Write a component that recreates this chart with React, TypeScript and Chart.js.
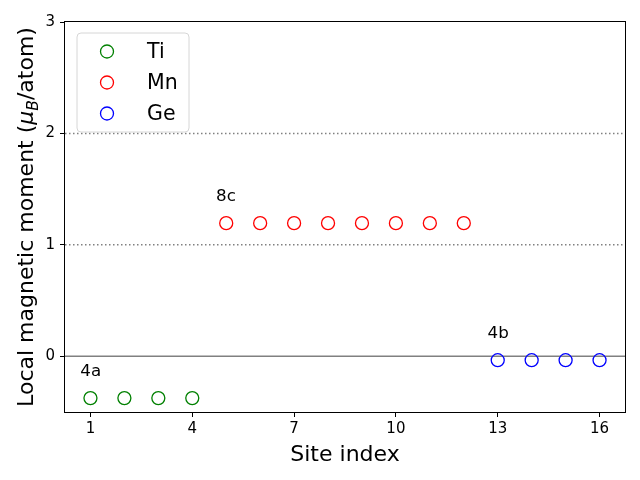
import React, { useEffect, useRef } from "react";
import { Chart, registerables } from "chart.js";

Chart.register(...registerables);

const tiSites = [1, 2, 3, 4];
const tiMoments = [-0.375, -0.375, -0.375, -0.375];
const mnSites = [5, 6, 7, 8, 9, 10, 11, 12];
const mnMoments = [1.195, 1.195, 1.195, 1.195, 1.195, 1.195, 1.195, 1.195];
const geSites = [13, 14, 15, 16];
const geMoments = [-0.035, -0.035, -0.035, -0.035];

const xTickValues = [1, 4, 7, 10, 13, 16];
const yTickValues = [0, 1, 2, 3];

const siteLabels = ["4a", "8c", "4b"];
const siteLabelX = [0.7, 4.7, 12.7];
const siteLabelY = [-0.175, 1.395, 0.165];

const solidLevels = [0];
const dottedLevels = [1, 2];

const FONT = "'DejaVu Sans', sans-serif";

const toPoints = (xs: number[], ys: number[]) => xs.map((x, i) => ({ x, y: ys[i] }));

const decorPlugin = {
  id: "decor",
  beforeDatasetsDraw(chart: any) {
    const { ctx, chartArea: a, scales } = chart;
    const y = scales.y;
    ctx.save();
    ctx.strokeStyle = "#808080";
    ctx.lineWidth = 1.5;
    solidLevels.forEach((v) => {
      const py = y.getPixelForValue(v);
      ctx.beginPath();
      ctx.moveTo(a.left, py);
      ctx.lineTo(a.right, py);
      ctx.stroke();
    });
    ctx.setLineDash([1.5, 2.5]);
    dottedLevels.forEach((v) => {
      const py = y.getPixelForValue(v);
      ctx.beginPath();
      ctx.moveTo(a.left, py);
      ctx.lineTo(a.right, py);
      ctx.stroke();
    });
    ctx.restore();
  },
  afterDraw(chart: any) {
    const { ctx, chartArea: a, scales } = chart;
    const x = scales.x;
    const y = scales.y;
    ctx.save();
    // annotations
    ctx.fillStyle = "#000";
    ctx.font = `16.7px ${FONT}`;
    ctx.textAlign = "left";
    ctx.textBaseline = "alphabetic";
    siteLabels.forEach((t, i) => {
      ctx.fillText(t, x.getPixelForValue(siteLabelX[i]), y.getPixelForValue(siteLabelY[i]));
    });
    // frame
    ctx.strokeStyle = "#000";
    ctx.lineWidth = 1;
    ctx.strokeRect(Math.round(a.left) - 0.5, Math.round(a.top) - 0.5, Math.round(a.right - a.left) + 1, Math.round(a.bottom - a.top) + 1);

    // legend
    const lx = a.left + 12;
    const ly = a.top + 11;
    const lw = 112;
    const lh = 99;
    const r = 4;
    ctx.beginPath();
    ctx.moveTo(lx + r, ly);
    ctx.lineTo(lx + lw - r, ly);
    ctx.arcTo(lx + lw, ly, lx + lw, ly + r, r);
    ctx.lineTo(lx + lw, ly + lh - r);
    ctx.arcTo(lx + lw, ly + lh, lx + lw - r, ly + lh, r);
    ctx.lineTo(lx + r, ly + lh);
    ctx.arcTo(lx, ly + lh, lx, ly + lh - r, r);
    ctx.lineTo(lx, ly + r);
    ctx.arcTo(lx, ly, lx + r, ly, r);
    ctx.closePath();
    ctx.fillStyle = "rgba(255,255,255,0.8)";
    ctx.fill();
    ctx.strokeStyle = "#d6d6d6";
    ctx.lineWidth = 1;
    ctx.stroke();
    chart.data.datasets.forEach((ds: any, i: number) => {
      const cy = ly + 18.5 + i * 31;
      ctx.beginPath();
      ctx.arc(lx + 30, cy, 6.5, 0, Math.PI * 2);
      ctx.strokeStyle = ds.borderColor;
      ctx.lineWidth = 1.3;
      ctx.stroke();
      ctx.fillStyle = "#000";
      ctx.font = `20.5px ${FONT}`;
      ctx.textBaseline = "middle";
      ctx.fillText(ds.label, lx + 70, cy + 1);
    });

    // x title
    ctx.fillStyle = "#000";
    ctx.font = `22px ${FONT}`;
    ctx.textAlign = "center";
    ctx.textBaseline = "alphabetic";
    ctx.fillText("Site index", (a.left + a.right) / 2, 461);

    // y title with subscript
    const big = `22px ${FONT}`;
    const ital = `italic 22px ${FONT}`;
    const sub = `italic 15.5px ${FONT}`;
    const parts = [
      { t: "Local magnetic moment (", f: big, dy: 0 },
      { t: "\u03bc", f: ital, dy: 0 },
      { t: "B", f: sub, dy: 4.5 },
      { t: "/atom)", f: big, dy: 0 },
    ];
    let total = 0;
    parts.forEach((p) => {
      ctx.font = p.f;
      total += ctx.measureText(p.t).width;
    });
    ctx.translate(33, (a.top + a.bottom) / 2);
    ctx.rotate(-Math.PI / 2);
    ctx.textAlign = "left";
    let cx = -total / 2;
    parts.forEach((p) => {
      ctx.font = p.f;
      ctx.fillText(p.t, cx, p.dy);
      cx += ctx.measureText(p.t).width;
    });
    ctx.restore();
  },
};

export default function App() {
  const ref = useRef<HTMLCanvasElement | null>(null);
  useEffect(() => {
    document.body.style.margin = "0";
    const pointStyle = {
      pointRadius: 6.5,
      pointHoverRadius: 6.5,
      pointBorderWidth: 1.3,
      pointBackgroundColor: "rgba(0,0,0,0)",
      showLine: false,
    };
    const chart = new Chart(ref.current as HTMLCanvasElement, {
      type: "scatter",
      data: {
        datasets: [
          { label: "Ti", data: toPoints(tiSites, tiMoments), borderColor: "#008000", pointBorderColor: "#008000", ...pointStyle },
          { label: "Mn", data: toPoints(mnSites, mnMoments), borderColor: "#ff0000", pointBorderColor: "#ff0000", ...pointStyle },
          { label: "Ge", data: toPoints(geSites, geMoments), borderColor: "#0000ff", pointBorderColor: "#0000ff", ...pointStyle },
        ],
      },
      options: {
        animation: false,
        responsive: false,
        events: [],
        layout: { padding: { top: 22, right: 15, left: 0, bottom: 0 } },
        plugins: { legend: { display: false }, tooltip: { enabled: false } },
        scales: {
          x: {
            type: "linear",
            min: 0.25,
            max: 16.75,
            afterBuildTicks: (s: any) => {
              s.ticks = xTickValues.map((v) => ({ value: v }));
            },
            afterFit: (s: any) => {
              s.height = 68;
            },
            grid: { drawOnChartArea: false, drawTicks: true, tickLength: 5, tickColor: "#000", tickWidth: 1 },
            border: { display: false },
            ticks: { color: "#000", font: { family: FONT, size: 15 }, padding: 3, maxRotation: 0, autoSkip: false },
          },
          y: {
            type: "linear",
            min: -0.5,
            max: 3,
            afterBuildTicks: (s: any) => {
              s.ticks = yTickValues.map((v) => ({ value: v }));
            },
            afterFit: (s: any) => {
              s.width = 65;
            },
            grid: { drawOnChartArea: false, drawTicks: true, tickLength: 5, tickColor: "#000", tickWidth: 1 },
            border: { display: false },
            ticks: { color: "#000", font: { family: FONT, size: 15 }, padding: 5, autoSkip: false },
          },
        },
      },
      plugins: [decorPlugin],
    } as any);
    return () => chart.destroy();
  }, []);
  return (
    <div style={{ width: 640, height: 480 }}>
      <canvas ref={ref} width={640} height={480} style={{ width: 640, height: 480, display: "block" }} />
    </div>
  );
}
